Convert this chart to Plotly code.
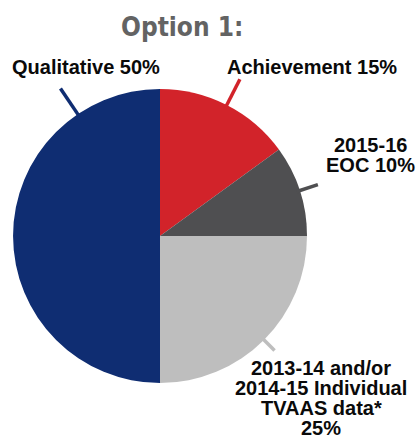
import math
import plotly.graph_objects as go

labels = ["Achievement", "2015-16 EOC", "2013-14 and/or 2014-15 Individual TVAAS data*", "Qualitative"]
values = [15, 10, 25, 50]
label_lines = [["Achievement 15%"], ["2015-16", "EOC 10%"],
               ["2013-14 and/or", "2014-15 Individual", "TVAAS data*", "25%"], ["Qualitative 50%"]]
colors = ["#D2232A", "#4F4F51", "#BEBEBE", "#0F2D72"]

W, H = 418, 439
cx, cy, R = 160, 236, 147

fig = go.Figure(go.Pie(
    labels=labels, values=values, sort=False, direction="clockwise", rotation=0,
    marker=dict(colors=colors, line=dict(width=0)),
    textinfo="none", hoverinfo="skip", showlegend=False,
    domain=dict(x=[(cx - R) / W, (cx + R) / W], y=[1 - (cy + R) / H, 1 - (cy - R) / H]),
))

# leader lines: mid-angles from data (qualitative label sits at upper-left)
total = sum(values)
cum = 0
mids = []
for v in values:
    mids.append((cum + v / 2) / total * 360)
    cum += v
mids[3] = 326
ends = [176, 166, 162, 178]

def to_paper(r, ang):
    a = math.radians(ang)
    x = cx + r * math.sin(a)
    y = cy - r * math.cos(a)
    return x / W, 1 - y / H

shapes = []
for ang, r2, col in zip(mids, ends, colors):
    x0, y0 = to_paper(144, ang)
    x1, y1 = to_paper(r2, ang)
    shapes.append(dict(type="line", xref="paper", yref="paper", x0=x0, y0=y0, x1=x1, y1=y1,
                       line=dict(color=col, width=3.5)))

lab_pos = [(312, 67), (370, 145), (321, 368), (86, 67)]
line_gap = 20
annotations = []
for lines, (px, py) in zip(label_lines, lab_pos):
    for i, txt in enumerate(lines):
        annotations.append(dict(text=f"<b>{txt}</b>", x=px / W, y=1 - (py + i * line_gap) / H,
                                xref="paper", yref="paper",
                                showarrow=False, xanchor="center", yanchor="middle",
                                font=dict(family="Liberation Sans, Arial", size=20, color="#0A0A0A")))
annotations.append(dict(text="<b>Option 1:</b>", x=182 / W, y=1 - 27 / H, xref="paper", yref="paper",
                        showarrow=False, xanchor="center", yanchor="middle",
                        font=dict(family="DejaVu Sans Condensed, DejaVu Sans", size=26, color="#636363")))

fig.update_layout(width=W, height=H, margin=dict(l=0, r=0, t=0, b=0),
                  paper_bgcolor="white", plot_bgcolor="white",
                  shapes=shapes, annotations=annotations)
fig.write_html("out.html", config={"displayModeBar": False},
               post_script="document.body.style.margin='0';")
